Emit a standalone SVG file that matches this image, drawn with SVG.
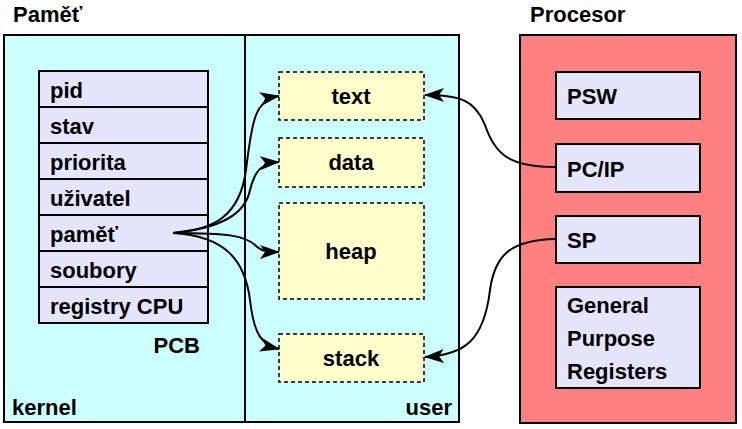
<svg xmlns="http://www.w3.org/2000/svg" width="742" height="429" viewBox="0 0 742 429">
<style>
text{font-family:"Liberation Sans",Arial,sans-serif;font-weight:bold;font-size:22px;fill:#000}
.mem{fill:#ccffff;stroke:#000;stroke-width:2}
.cpu{fill:#ff8080;stroke:#000;stroke-width:2}
.reg{fill:#e4e4fa;stroke:#000;stroke-width:2}
.row{fill:#e4e4fa;stroke:#000;stroke-width:2}
.seg{fill:#ffffcc;stroke:#000;stroke-width:1.5;stroke-dasharray:4 3}
.c{fill:none;stroke:#000;stroke-width:2}
.m{text-anchor:middle}
</style>
<defs>
<marker id="ah" viewBox="0 0 20 14" refX="19" refY="7" markerWidth="20" markerHeight="14" markerUnits="userSpaceOnUse" orient="auto">
<path d="M0,0 L20,7 L0,14 L5,7 Z" fill="#000"/>
</marker>
</defs>
<g id="titles">
<text x="13" y="22">Paměť</text>
<text x="530" y="22">Procesor</text>
</g>
<g id="memory">
<rect class="mem" x="4" y="35" width="241" height="387"/>
<rect class="mem" x="245" y="35" width="214" height="387"/>
<text x="12" y="415">kernel</text>
<text x="452" y="415" text-anchor="end">user</text>
</g>
<g id="pcb">
<rect class="row" x="39" y="71" width="169" height="36"/>
<rect class="row" x="39" y="107" width="169" height="36"/>
<rect class="row" x="39" y="143" width="169" height="36"/>
<rect class="row" x="39" y="179" width="169" height="36"/>
<rect class="row" x="39" y="215" width="169" height="36"/>
<rect class="row" x="39" y="251" width="169" height="36"/>
<rect class="row" x="39" y="287" width="169" height="36"/>
<text x="50" y="98">pid</text>
<text x="50" y="134">stav</text>
<text x="50" y="170">priorita</text>
<text x="50" y="206">uživatel</text>
<text x="50" y="242">paměť</text>
<text x="50" y="278">soubory</text>
<text x="50" y="314">registry CPU</text>
<text x="200" y="353" text-anchor="end">PCB</text>
</g>
<g id="seg-text"><rect class="seg" x="279" y="72" width="145" height="48"/><text class="m" x="351" y="104">text</text></g>
<g id="seg-data"><rect class="seg" x="279" y="138" width="145" height="49"/><text class="m" x="351" y="170">data</text></g>
<g id="seg-heap"><rect class="seg" x="279" y="203" width="145" height="96"/><text class="m" x="351" y="259">heap</text></g>
<g id="seg-stack"><rect class="seg" x="279" y="334" width="145" height="48"/><text class="m" x="351" y="366">stack</text></g>
<g id="processor">
<rect class="cpu" x="520" y="35" width="216" height="388"/>
</g>
<g id="psw"><rect class="reg" x="556" y="72" width="144" height="47"/><text x="567" y="104">PSW</text></g>
<g id="pcip"><rect class="reg" x="556" y="144" width="144" height="48"/><text x="567" y="177">PC/IP</text></g>
<g id="sp"><rect class="reg" x="556" y="216" width="144" height="47"/><text x="567" y="248">SP</text></g>
<g id="gpr"><rect class="reg" x="556" y="287" width="144" height="101"/>
<text x="567" y="313">General</text><text x="567" y="346">Purpose</text><text x="567" y="379">Registers</text></g>
<g id="connectors">
<path class="c" marker-end="url(#ah)" d="M173,233 C215,230 240,215 246,170 C252,120 255,100 279,96"/>
<path class="c" marker-end="url(#ah)" d="M173,233 C220,228 245,215 250,190 C255,170 262,163 279,162"/>
<path class="c" marker-end="url(#ah)" d="M173,233 C230,233 245,236 255,245 C262,252 268,252 279,252"/>
<path class="c" marker-end="url(#ah)" d="M173,233 C225,236 245,260 250,300 C254,335 262,345 279,349"/>
<path class="c" marker-end="url(#ah)" d="M556,167 C510,167 495,155 485,125 C475,100 460,95 425,95"/>
<path class="c" marker-end="url(#ah)" d="M556,239 C510,240 495,255 490,290 C484,340 465,355 425,357"/>
</g>
</svg>
